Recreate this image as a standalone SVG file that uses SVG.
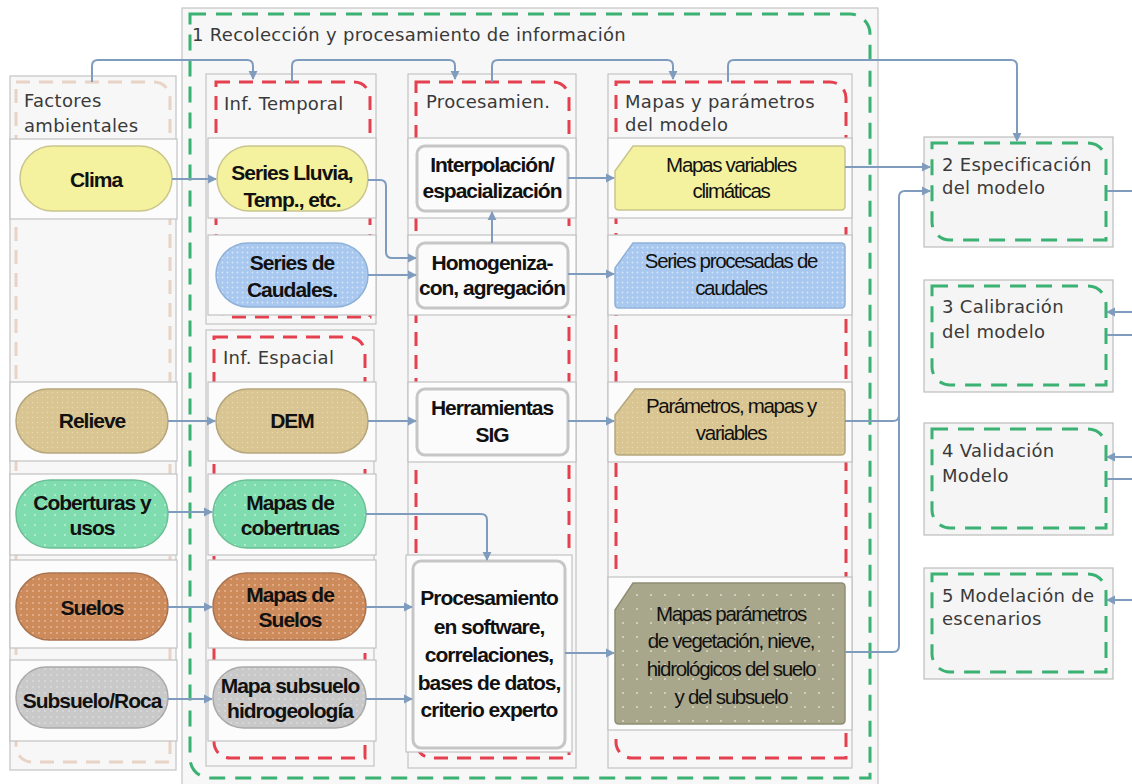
<svg xmlns="http://www.w3.org/2000/svg" width="1132" height="784" viewBox="0 0 1132 784">
<defs>
<style>
.lane{fill:#f7f7f7;stroke:#c4c4c4;stroke-width:1.2}
.row{fill:#fcfcfc;stroke:#c2c2c2;stroke-width:1.2}
.rn{fill:#f5f5f5;stroke:#bdbdbd;stroke-width:1.2}
.gd{fill:none;stroke:#3bb273;stroke-width:3;stroke-dasharray:16 10}
.rd{fill:none;stroke:#e5404f;stroke-width:3;stroke-dasharray:14 9}
.pd{fill:none;stroke:#e8d4c6;stroke-width:3;stroke-dasharray:14 9}
.lbl{font-family:"DejaVu Sans",Verdana,sans-serif;font-size:18px;letter-spacing:0.3px;fill:#3a3a3a}
.b{font-family:"Liberation Sans",Arial,sans-serif;font-weight:bold;font-size:21px;letter-spacing:-1px;fill:#111;text-anchor:middle}
.r{font-family:"Liberation Sans",Arial,sans-serif;font-size:20.5px;letter-spacing:-1.3px;fill:#111;text-anchor:middle}
.proc{fill:#fbfbfb;stroke:#c6c6c6;stroke-width:3}
.pill{stroke-width:1.5}
.c{fill:none;stroke:#7f9cbf;stroke-width:2}
.ca{fill:none;stroke:#7f9cbf;stroke-width:2;marker-end:url(#ah)}
</style>
<marker id="ah" viewBox="0 0 10 10" refX="9" refY="5" markerWidth="9" markerHeight="10" orient="auto" markerUnits="userSpaceOnUse">
<path d="M0,0 L10,5 L0,10 z" fill="#7f9cbf"/>
</marker>
<pattern id="pBlue" width="5" height="5" patternUnits="userSpaceOnUse"><rect width="5" height="5" fill="#a8c8ef"/><circle cx="2.5" cy="2.5" r="0.9" fill="#d6e6f9"/></pattern>
<pattern id="pTan" width="5" height="5" patternUnits="userSpaceOnUse"><rect width="5" height="5" fill="#d9c592"/><circle cx="2.5" cy="2.5" r="0.7" fill="#e8dbb6"/></pattern>
<pattern id="pMint" width="10" height="10" patternUnits="userSpaceOnUse"><rect width="10" height="10" fill="#7fdcae"/><circle cx="5" cy="5" r="1" fill="#bdf0d6"/></pattern>
<pattern id="pOrange" width="6" height="6" patternUnits="userSpaceOnUse"><rect width="6" height="6" fill="#cd8a5b"/><circle cx="3" cy="3" r="1" fill="#e6b594"/></pattern>
<pattern id="pGray" width="6" height="6" patternUnits="userSpaceOnUse"><rect width="6" height="6" fill="#c9c9c9"/><circle cx="3" cy="3" r="0.9" fill="#dcdcdc"/></pattern>
<pattern id="pOlive" width="14" height="14" patternUnits="userSpaceOnUse"><rect width="14" height="14" fill="#a9a78b"/><circle cx="7" cy="7" r="1" fill="#dcdccc"/></pattern>
</defs>

<rect width="1132" height="784" fill="#ffffff"/>

<g id="group1">
<rect x="182" y="8" width="696" height="790" class="lane" fill="#f8f8f8"/>
<path class="gd" d="M190,14 H850 A20,20 0 0 1 870,34 V778 H210 A20,20 0 0 1 190,758 Z"/>
<text class="lbl" x="192" y="41">1 Recolección y procesamiento de información</text>
</g>

<g id="lane-factores">
<rect x="10" y="76" width="166" height="694" class="lane"/>
<path class="pd" d="M16,82 H154 A16,16 0 0 1 170,98 V762 H32 A16,16 0 0 1 16,746 Z"/>
<text class="lbl" x="24" y="107">Factores</text>
<text class="lbl" x="24" y="132">ambientales</text>
</g>

<g id="lane-temporal">
<rect x="206" y="74" width="170" height="250" class="lane"/>
<path class="rd" d="M216,82 H354 A16,16 0 0 1 370,98 V317 H232 A16,16 0 0 1 216,301 Z"/>
<text class="lbl" x="224" y="110">Inf. Temporal</text>
</g>

<g id="lane-espacial">
<rect x="206" y="330" width="168" height="436" class="lane"/>
<path class="rd" d="M214,337 H349 A16,16 0 0 1 365,353 V758 H230 A16,16 0 0 1 214,742 Z"/>
<text class="lbl" x="223" y="364">Inf. Espacial</text>
</g>

<g id="lane-procesamiento">
<rect x="408" y="74" width="168" height="694" class="lane"/>
<path class="rd" d="M416,82 H553 A16,16 0 0 1 569,98 V758 H432 A16,16 0 0 1 416,742 Z"/>
<text class="lbl" x="426" y="108">Procesamien.</text>
</g>

<g id="lane-mapas">
<rect x="608" y="74" width="244" height="694" class="lane"/>
<path class="rd" d="M616,82 H830 A16,16 0 0 1 846,98 V758 H632 A16,16 0 0 1 616,742 Z"/>
<text class="lbl" x="625" y="108">Mapas y parámetros</text>
<text class="lbl" x="625" y="131">del modelo</text>
</g>

<!-- Factores ambientales nodes -->
<g id="clima">
<rect class="row" x="10" y="139" width="167" height="80"/>
<rect class="pill" x="20" y="146" width="152" height="65" rx="32.5" fill="#f4f19f" stroke="#c9c58d"/>
<text class="b" x="96" y="187">Clima</text>
</g>
<g id="relieve">
<rect class="row" x="10" y="382" width="167" height="79"/>
<rect class="pill" x="16" y="389" width="152" height="64" rx="32" fill="url(#pTan)" stroke="#b5a67c"/>
<text class="b" x="92" y="428">Relieve</text>
</g>
<g id="coberturas">
<rect class="row" x="10" y="474" width="167" height="81"/>
<rect class="pill" x="16" y="480" width="152" height="68" rx="34" fill="url(#pMint)" stroke="#6cbf95"/>
<text class="b" x="92" y="510">Coberturas y</text>
<text class="b" x="92" y="535">usos</text>
</g>
<g id="suelos">
<rect class="row" x="10" y="560" width="167" height="88"/>
<rect class="pill" x="16" y="573" width="152" height="67" rx="33.5" fill="url(#pOrange)" stroke="#a8734f"/>
<text class="b" x="92" y="615">Suelos</text>
</g>
<g id="subsuelo">
<rect class="row" x="10" y="660" width="167" height="81"/>
<rect class="pill" x="16" y="667" width="152" height="61" rx="30.5" fill="url(#pGray)" stroke="#a9a9a9"/>
<text class="b" x="92" y="708">Subsuelo/Roca</text>
</g>

<!-- Inf. Temporal nodes -->
<g id="series-lluvia">
<rect class="row" x="208" y="138" width="168" height="80"/>
<rect class="pill" x="217" y="146" width="151" height="65" rx="32.5" fill="#f4f19f" stroke="#c9c58d"/>
<text class="b" x="292" y="180">Series Lluvia,</text>
<text class="b" x="292" y="207">Temp., etc.</text>
</g>
<g id="series-caudales">
<rect class="row" x="208" y="235" width="168" height="80"/>
<rect class="pill" x="216" y="243" width="152" height="64" rx="32" fill="url(#pBlue)" stroke="#8fb0d8"/>
<text class="b" x="292" y="270">Series de</text>
<text class="b" x="292" y="297">Caudales.</text>
</g>

<!-- Inf. Espacial nodes -->
<g id="dem">
<rect class="row" x="208" y="382" width="168" height="79"/>
<rect class="pill" x="216" y="389" width="152" height="64" rx="32" fill="url(#pTan)" stroke="#b5a67c"/>
<text class="b" x="292" y="428">DEM</text>
</g>
<g id="mapas-cobertruas">
<rect class="row" x="208" y="474" width="168" height="81"/>
<rect class="pill" x="213" y="480" width="153" height="68" rx="34" fill="url(#pMint)" stroke="#6cbf95"/>
<text class="b" x="290" y="510">Mapas de</text>
<text class="b" x="290" y="535">cobertruas</text>
</g>
<g id="mapas-suelos">
<rect class="row" x="208" y="560" width="168" height="88"/>
<rect class="pill" x="213" y="573" width="153" height="67" rx="33.5" fill="url(#pOrange)" stroke="#a8734f"/>
<text class="b" x="290" y="602">Mapas de</text>
<text class="b" x="290" y="627">Suelos</text>
</g>
<g id="mapa-subsuelo">
<rect class="row" x="208" y="660" width="168" height="81"/>
<rect class="pill" x="213" y="667" width="153" height="61" rx="30.5" fill="url(#pGray)" stroke="#a9a9a9"/>
<text class="b" x="290" y="693">Mapa subsuelo</text>
<text class="b" x="290" y="718">hidrogeología</text>
</g>

<!-- Procesamiento nodes -->
<g id="interpolacion">
<rect class="row" x="408" y="138" width="168" height="80"/>
<rect class="proc" x="417" y="146" width="151" height="65" rx="8"/>
<text class="b" x="492" y="172">Interpolación/</text>
<text class="b" x="492" y="198">espacialización</text>
</g>
<g id="homogenizacion">
<rect class="row" x="408" y="235" width="168" height="80"/>
<rect class="proc" x="417" y="243" width="151" height="65" rx="8"/>
<text class="b" x="492" y="270">Homogeniza-</text>
<text class="b" x="492" y="295">con, agregación</text>
</g>
<g id="herramientas">
<rect class="row" x="408" y="382" width="168" height="80"/>
<rect class="proc" x="417" y="389" width="151" height="66" rx="8"/>
<text class="b" x="492" y="415">Herramientas</text>
<text class="b" x="492" y="442">SIG</text>
</g>
<g id="procesamiento-software">
<rect class="row" x="406" y="555" width="166" height="197"/>
<rect class="proc" x="413" y="561" width="152" height="187" rx="8"/>
<text class="b" x="489" y="605">Procesamiento</text>
<text class="b" x="489" y="634">en software,</text>
<text class="b" x="489" y="662">correlaciones,</text>
<text class="b" x="489" y="690">bases de datos,</text>
<text class="b" x="489" y="717">criterio experto</text>
</g>

<!-- Mapas y parámetros nodes -->
<g id="mapas-variables">
<rect class="row" x="608" y="138" width="244" height="80"/>
<path d="M633,146 H841 Q845,146 845,150 V206 Q845,210 841,210 H619 Q615,210 615,206 V171 Z" fill="#f4f19f" stroke="#c9c58d" stroke-width="1.5"/>
<text class="r" x="731" y="172">Mapas variables</text>
<text class="r" x="731" y="198">climáticas</text>
</g>
<g id="series-procesadas">
<rect class="row" x="608" y="235" width="244" height="80"/>
<path d="M633,243 H841 Q845,243 845,247 V304 Q845,308 841,308 H619 Q615,308 615,304 V268 Z" fill="url(#pBlue)" stroke="#8fb0d8" stroke-width="1.5"/>
<text class="r" x="731" y="268">Series procesadas de</text>
<text class="r" x="731" y="295">caudales</text>
</g>
<g id="parametros">
<rect class="row" x="608" y="382" width="244" height="80"/>
<path d="M635,389 H841 Q845,389 845,393 V451 Q845,455 841,455 H619 Q615,455 615,451 V415 Z" fill="url(#pTan)" stroke="#b5a67c" stroke-width="1.5"/>
<text class="r" x="731" y="413">Parámetros, mapas y</text>
<text class="r" x="731" y="440">variables</text>
</g>
<g id="mapas-parametros-vegetacion">
<rect class="row" x="608" y="577" width="244" height="153"/>
<path d="M633,583 H841 Q845,583 845,587 V720 Q845,724 841,724 H619 Q615,724 615,720 V610 Z" fill="url(#pOlive)" stroke="#8f8d74" stroke-width="1.5"/>
<text class="r" x="731" y="621">Mapas parámetros</text>
<text class="r" x="731" y="648">de vegetación, nieve,</text>
<text class="r" x="731" y="676">hidrológicos del suelo</text>
<text class="r" x="731" y="704">y del subsuelo</text>
</g>

<!-- Right-side steps -->
<g id="step2">
<rect class="rn" x="924" y="137" width="189" height="110"/>
<path class="gd" d="M932,143 H1088 A18,18 0 0 1 1106,161 V240 H950 A18,18 0 0 1 932,222 Z"/>
<text class="lbl" x="942" y="171">2 Especificación</text>
<text class="lbl" x="942" y="194">del modelo</text>
</g>
<g id="step3">
<rect class="rn" x="924" y="280" width="189" height="112"/>
<path class="gd" d="M932,286 H1088 A18,18 0 0 1 1106,304 V385 H950 A18,18 0 0 1 932,367 Z"/>
<text class="lbl" x="942" y="313">3 Calibración</text>
<text class="lbl" x="942" y="338">del modelo</text>
</g>
<g id="step4">
<rect class="rn" x="924" y="423" width="189" height="112"/>
<path class="gd" d="M932,429 H1088 A18,18 0 0 1 1106,447 V528 H950 A18,18 0 0 1 932,510 Z"/>
<text class="lbl" x="942" y="457">4 Validación</text>
<text class="lbl" x="942" y="482">Modelo</text>
</g>
<g id="step5">
<rect class="rn" x="924" y="568" width="189" height="111"/>
<path class="gd" d="M932,574 H1088 A18,18 0 0 1 1106,592 V672 H950 A18,18 0 0 1 932,654 Z"/>
<text class="lbl" x="942" y="602">5 Modelación de</text>
<text class="lbl" x="942" y="625">escenarios</text>
</g>

<g id="connectors">
<path class="ca" d="M172,179 H216"/>
<path class="ca" d="M368,180 H380 Q386,180 386,186 V252 Q386,258 392,258 H416"/>
<path class="ca" d="M368,275 H416"/>
<path class="ca" d="M492,243 V212"/>
<path class="ca" d="M568,178 H614"/>
<path class="ca" d="M568,274 H614"/>
<path class="ca" d="M168,421 H215"/>
<path class="ca" d="M368,421 H416"/>
<path class="ca" d="M568,421 H614"/>
<path class="ca" d="M168,512 H212"/>
<path class="ca" d="M366,514 H481 Q487,514 487,520 V560"/>
<path class="ca" d="M168,607 H212"/>
<path class="ca" d="M366,607 H412"/>
<path class="ca" d="M168,699 H212"/>
<path class="ca" d="M366,699 H412"/>
<path class="ca" d="M565,653 H614"/>
<path class="ca" d="M845,167 H930"/>
<path class="c" d="M845,421 H893 Q899,421 899,415"/>
<path class="ca" d="M845,652 H893 Q899,652 899,646 V197 Q899,191 905,191 H930"/>
<path class="ca" d="M92,82 V66 Q92,60 98,60 H247 Q253,60 253,66 V79"/>
<path class="ca" d="M292,82 V66 Q292,60 298,60 H449 Q455,60 455,66 V79"/>
<path class="ca" d="M492,82 V66 Q492,60 498,60 H667 Q673,60 673,66 V79"/>
<path class="ca" d="M728,82 V66 Q728,60 734,60 H1011 Q1017,60 1017,66 V141"/>
<path class="c" d="M1107,191 H1132"/>
<path class="ca" d="M1132,312 H1107"/>
<path class="c" d="M1107,335 H1132"/>
<path class="ca" d="M1132,457 H1107"/>
<path class="c" d="M1107,479 H1132"/>
<path class="ca" d="M1132,600 H1107"/>
</g>
</svg>
